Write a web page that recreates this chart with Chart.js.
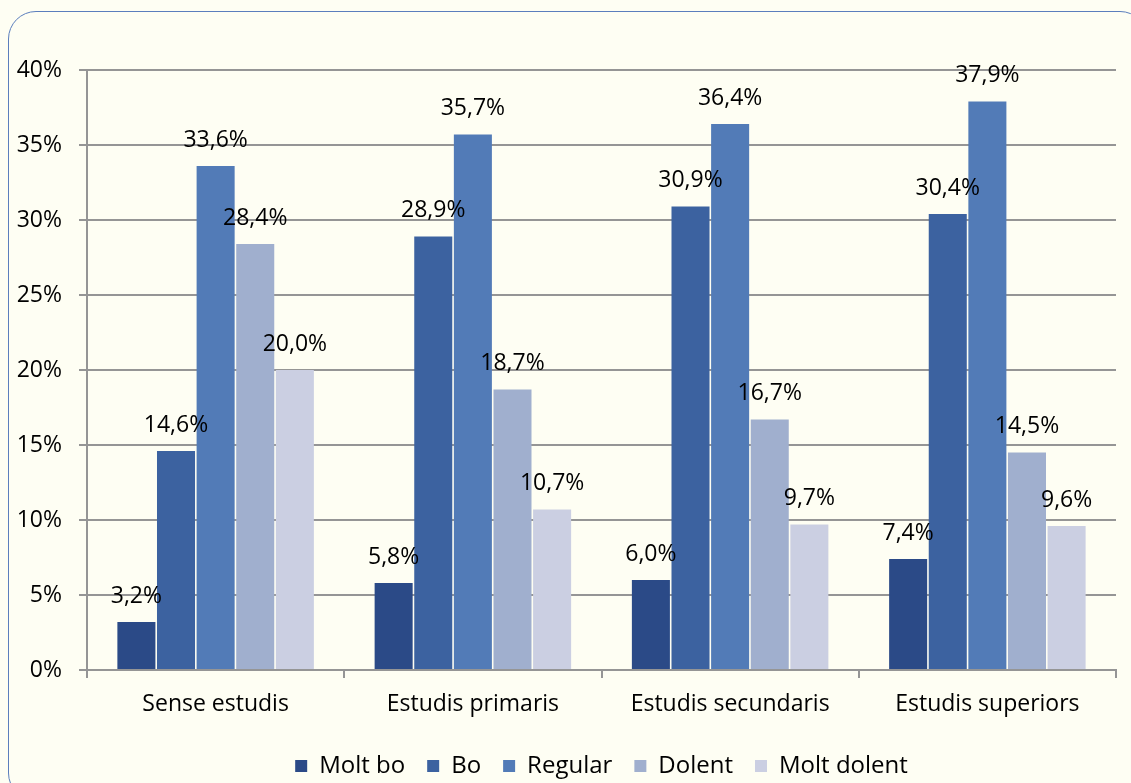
<!DOCTYPE html>
<html>
<head>
<meta charset="utf-8">
<script src="https://cdn.jsdelivr.net/npm/chart.js@4"></script>
<style>
  html, body { margin: 0; padding: 0; background: #fefef3; overflow: hidden; }
  #frame {
    position: absolute; left: 8px; top: 11px; width: 1140px; height: 790px;
    border: 1.5px solid #5b7ebd; border-radius: 28px; box-sizing: border-box;
  }
  #wrap { position: absolute; left: 0; top: 0; width: 1131px; height: 788px; }
</style>
</head>
<body>
<div id="frame"></div>
<div id="wrap"><canvas id="chart" width="1131" height="788"></canvas></div>
<script>
// ---------------- DATA ----------------
const categories = ["Sense estudis", "Estudis primaris", "Estudis secundaris", "Estudis superiors"];
const seriesNames = ["Molt bo", "Bo", "Regular", "Dolent", "Molt dolent"];
const moltBo = [3.2, 5.8, 6.0, 7.4];
const bo = [14.6, 28.9, 30.9, 30.4];
const regular = [33.6, 35.7, 36.4, 37.9];
const dolent = [28.4, 18.7, 16.7, 14.5];
const moltDolent = [20.0, 10.7, 9.7, 9.6];
const yTicks = [0, 5, 10, 15, 20, 25, 30, 35, 40];

const colors = ["#2b4a87", "#3c62a0", "#527bb7", "#a0afce", "#cbcfe2"];
const FONT = "'Open Sans', sans-serif";

function fmt(v) {
    return v.toFixed(1).replace(".", ",") + "%";
}

// data labels above each bar
const barLabels = {
    id: "barLabels",
    afterDatasetsDraw(chart) {
        const ctx = chart.ctx;
        ctx.save();
        ctx.font = "23px " + FONT;
        ctx.fillStyle = "#000";
        ctx.textAlign = "center";
        ctx.textBaseline = "middle";
        chart.data.datasets.forEach((ds, i) => {
            chart.getDatasetMeta(i).data.forEach((bar, j) => {
                ctx.fillText(fmt(ds.data[j]), bar.x, bar.y - 26);
            });
        });
        ctx.restore();
    }
};

const allSeries = [moltBo, bo, regular, dolent, moltDolent];

new Chart(document.getElementById("chart"), {
    type: "bar",
    data: {
        labels: categories,
        datasets: allSeries.map((vals, i) => ({
            label: seriesNames[i],
            data: vals,
            backgroundColor: colors[i],
            categoryPercentage: 0.77,
            barPercentage: 0.96
        }))
    },
    options: {
        responsive: false,
        animation: false,
        layout: { padding: { top: 70, right: 15, bottom: 0, left: 0 } },
        plugins: {
            legend: {
                position: "bottom",
                fullSize: false,
                labels: {
                    boxWidth: 12,
                    boxHeight: 12,
                    padding: 22,
                    color: "#000",
                    font: { family: FONT, size: 24 }
                }
            },
            tooltip: { enabled: false }
        },
        scales: {
            x: {
                afterFit: s => { s.height = 62; },
                grid: { display: true, drawOnChartArea: false, tickLength: 8, color: "#959595", lineWidth: 2 },
                border: { color: "#959595", width: 2 },
                ticks: { color: "#000", padding: 13, font: { family: FONT, size: 23 } }
            },
            y: {
                min: 0,
                max: 40,
                afterFit: s => { s.width = 87; },
                afterBuildTicks: s => { s.ticks = yTicks.map(v => ({ value: v })); },
                grid: { color: "#959595", lineWidth: 2, tickLength: 8 },
                border: { color: "#959595", width: 2 },
                ticks: {
                    color: "#000",
                    padding: 17,
                    font: { family: FONT, size: 23 },
                    callback: v => v + "%"
                }
            }
        }
    },
    plugins: [barLabels]
});
</script>
</body>
</html>
